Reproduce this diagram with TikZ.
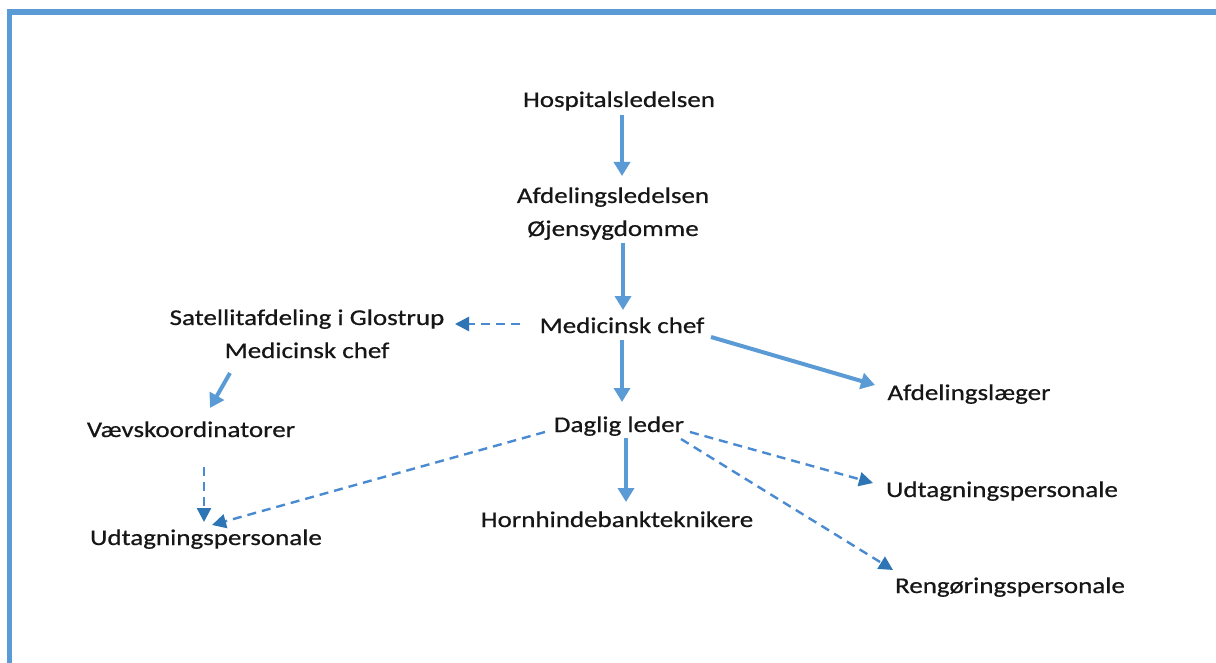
\documentclass[tikz,border=0pt]{standalone}
\usepackage{fontspec}
\setmainfont{Carlito}[FakeStretch=1.2,FakeBold=0.6]
\usetikzlibrary{arrows.meta,calc}
\definecolor{framecol}{HTML}{5B9BD5}
\definecolor{solidcol}{HTML}{5B9BD5}
\definecolor{dashcol}{HTML}{4A8AD0}
\definecolor{dashtip}{HTML}{2E75B6}
\definecolor{txtcol}{HTML}{161616}
\newcommand{\twolines}[2]{\begin{tabular}[t]{@{}c@{}}#1\\#2\end{tabular}}
\tikzset{
  lbl/.style={inner sep=0pt, outer sep=0pt, anchor=base, text=txtcol,
    font=\fontsize{22.5}{33}\selectfont},
  solidarrow/.style={draw=solidcol, line width=4pt,
    -{Triangle[width=16pt,length=14pt]}},
  dasharrow/.style={draw=dashcol, line width=2.4pt, dash pattern=on 9pt off 6pt,
    -{Triangle[width=14pt,length=14pt,color=dashtip]}},
}
\begin{document}
\begin{tikzpicture}[x=1pt,y=-1pt]
\useasboundingbox (0,0) rectangle (1216,663);
\fill[white] (0,0) rectangle (1216,663);
% frame
\draw[framecol, line width=5.5pt] (9.3,670) -- (9.3,12) -- (1225,12);

% nodes
\node[lbl] (hosp) at (619,107) {Hospitalsledelsen};
\node[lbl] (afd)  at (613,203) {\twolines{Afdelingsledelsen}{Øjensygdomme}};
\node[lbl] (med)  at (622,333) {Medicinsk chef};
\node[lbl] (sat)  at (307,325) {\twolines{Satellitafdeling i Glostrup}{Medicinsk chef}};
\node[lbl] (vaev) at (191,437) {Vævskoordinatorer};
\node[lbl] (udtL) at (206,545) {Udtagningspersonale};
\node[lbl] (dag)  at (619,432) {Daglig leder};
\node[lbl] (horn) at (617,527) {Hornhindebankteknikere};
\node[lbl] (afdl) at (969,400) {Afdelingslæger};
\node[lbl] (udtR) at (1002,497) {Udtagningspersonale};
\node[lbl] (reng) at (1010,593) {Rengøringspersonale};

% connectors
\draw[solidarrow] ($(hosp.base)+(3,8)$) -- ($(afd.base)+(9,-27)$);
\draw[solidarrow] ($(afd.base)+(10,40)$) -- ($(med.base)+(1,-23)$);
\draw[solidarrow] ($(med.base)+(0,7)$) -- ($(dag.base)+(3,-30)$);
\draw[solidarrow] ($(med.base)+(89,4)$) -- ($(afdl.base)+(-94,-15)$);
\draw[dasharrow]  ($(med.base)+(-102,-9)$) -- ($(sat.base)+(148,-1)$);
\draw[solidarrow] ($(sat.base)+(-77,48)$) -- ($(vaev.base)+(19,-29)$);
\draw[dasharrow]  ($(vaev.base)+(13,30)$) -- ($(udtL.base)+(-2,-23)$);
\draw[dasharrow]  ($(dag.base)+(-74,0)$) -- ($(udtL.base)+(6,-20)$);
\draw[solidarrow] ($(dag.base)+(7,6)$) -- ($(horn.base)+(9,-25)$);
\draw[dasharrow]  ($(dag.base)+(71,0)$) -- ($(udtR.base)+(-129,-14)$);
\draw[dasharrow]  ($(dag.base)+(62,7)$) -- ($(reng.base)+(-117,-23)$);
\end{tikzpicture}
\end{document}
